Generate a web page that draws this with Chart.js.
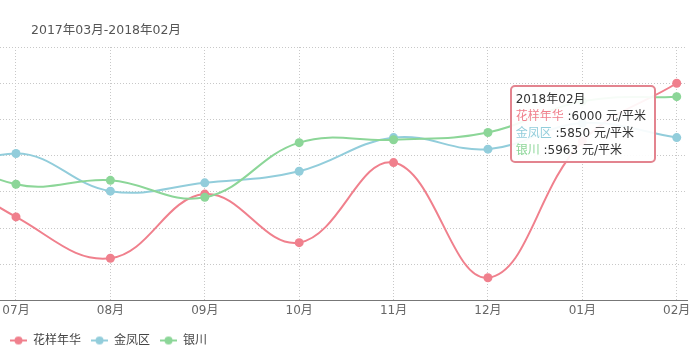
<!DOCTYPE html>
<html>
<head>
<meta charset="utf-8">
<script src="https://cdn.jsdelivr.net/npm/chart.js@4.4.0/dist/chart.umd.min.js"></script>
<style>
  html, body { margin: 0; padding: 0; background: #fff; }
  #wrap { position: relative; width: 697px; height: 353px; }
  #title { position: absolute; left: 31px; top: 19px; font: 12.5px "DejaVu Sans", "Noto Sans CJK SC", sans-serif; color: #555; }
  #tip { position: absolute; display: none; box-sizing: border-box; width: 146px; border: 2px solid #e3848f; border-radius: 5px;
         background: rgba(255,255,255,0.92); padding: 4px 4px 2px 4px; font: 12px/17px "DejaVu Sans", "Noto Sans CJK SC", sans-serif; color: #333; white-space: nowrap; }
</style>
</head>
<body>
<div id="wrap">
  <canvas id="chart" width="697" height="353"></canvas>
  <div id="title">2017年03月-2018年02月</div>
  <div id="tip"></div>
</div>
<script>
// months shown on the axis (06 only feeds the curve entering from the left edge)
const months = ["06月", "07月", "08月", "09月", "10月", "11月", "12月", "01月", "02月"];
const monthFull = ["2017年06月", "2017年07月", "2017年08月", "2017年09月", "2017年10月", "2017年11月", "2017年12月", "2018年01月", "2018年02月"];

// 元/平米
const huayang = [5800, 5631, 5517, 5694, 5560, 5781, 5463, 5840, 6000];
const jinfeng = [5700, 5806, 5702, 5725, 5757, 5850, 5818, 5890, 5850];
const yinchuan = [5852, 5721, 5732, 5685, 5836, 5844, 5864, 5950, 5963];

const names = ["花样年华", "金凤区", "银川"];
const colors = ["#f0808d", "#92cddb", "#8cd698"];
const unit = " 元/平米";
const fontFamily = "'DejaVu Sans', 'Noto Sans CJK SC', sans-serif";

const toPoints = arr => arr.map((v, i) => ({ x: i, y: v }));

// legend marker: short line with a dot
function marker(color) {
  const c = document.createElement("canvas");
  c.width = 17; c.height = 10;
  const g = c.getContext("2d");
  g.strokeStyle = color; g.lineWidth = 2;
  g.beginPath(); g.moveTo(0, 5); g.lineTo(17, 5); g.stroke();
  g.fillStyle = color;
  g.beginPath(); g.arc(8.5, 5, 4, 0, Math.PI * 2); g.fill();
  return c;
}

const tip = document.getElementById("tip");

function externalTip(context) {
  const { tooltip } = context;
  if (!tooltip.dataPoints || !tooltip.dataPoints.length || tooltip.opacity === 0) {
    tip.style.display = "none";
    return;
  }
  const pts = tooltip.dataPoints.slice().sort((a, b) => a.datasetIndex - b.datasetIndex);
  const idx = pts[0].dataIndex;
  let html = monthFull[idx] + "<br>";
  html += pts.map(p =>
    '<span style="color:' + colors[p.datasetIndex] + '">' + names[p.datasetIndex] + "</span> :" + p.parsed.y + unit
  ).join("<br>");
  tip.innerHTML = html;
  const el = pts[0].element;
  tip.style.left = (el.x - 167) + "px";
  tip.style.top = (el.y + 2) + "px";
  tip.style.display = "block";
}

const ctx = document.getElementById("chart").getContext("2d");
const chart = new Chart(ctx, {
  type: "line",
  data: {
    datasets: [huayang, jinfeng, yinchuan].map((arr, i) => ({
      label: names[i],
      data: toPoints(arr),
      borderColor: colors[i],
      backgroundColor: colors[i],
      pointBackgroundColor: colors[i],
      pointBorderWidth: 0,
      pointRadius: 4.5,
      pointHoverRadius: 4.5,
      pointHoverBorderWidth: 0,
      borderWidth: 2,
      tension: 0.4,
      order: 2 - i
    }))
  },
  options: {
    responsive: false,
    animation: false,
    events: [],
    layout: { autoPadding: false, padding: { left: 0, right: 10, top: 47, bottom: -3.5 } },
    elements: { line: { capBezierPoints: false } },
    scales: {
      x: {
        type: "linear",
        min: 0.8305,
        max: 8.109,
        afterBuildTicks: s => { s.ticks = s.ticks.filter(t => Number.isInteger(t.value)); },
        afterFit: s => { s.paddingLeft = 0; s.paddingRight = 0; s.height += 3.5; },
        ticks: {
          stepSize: 1,
          includeBounds: false,
          maxRotation: 0,
          autoSkip: false,
          padding: 3,
          color: "#666",
          font: { family: fontFamily, size: 12 },
          callback: v => months[v]
        },
        grid: { color: "#c8c8c8", drawTicks: false },
        border: { display: true, color: "#777", width: 1, dash: [1, 2] }
      },
      y: {
        min: 5400,
        max: 6100,
        afterFit: s => { s.width = 0; },
        ticks: { display: false, stepSize: 100 },
        grid: { color: "#c8c8c8", drawTicks: false },
        border: { display: false, dash: [1, 2] }
      }
    },
    plugins: {
      legend: {
        position: "bottom",
        align: "start",
        labels: {
          usePointStyle: true,
          pointStyleWidth: 17,
          boxHeight: 10,
          padding: 10,
          color: "#444",
          font: { family: fontFamily, size: 12 },
          sort: (a, b) => a.datasetIndex - b.datasetIndex,
          generateLabels: c => Chart.defaults.plugins.legend.labels.generateLabels(c).map(item => {
            item.pointStyle = marker(colors[item.datasetIndex]);
            return item;
          })
        }
      },
      tooltip: {
        enabled: false,
        mode: "index",
        intersect: false,
        external: externalTip
      }
    }
  }
});

// show the tooltip for 2018年02月 like the reference
const last = months.length - 1;
const active = [0, 1, 2].map(d => ({ datasetIndex: d, index: last }));
const m = chart.getDatasetMeta(0).data[last];
chart.tooltip.setActiveElements(active, { x: m.x, y: m.y });
chart.update();
</script>
</body>
</html>
